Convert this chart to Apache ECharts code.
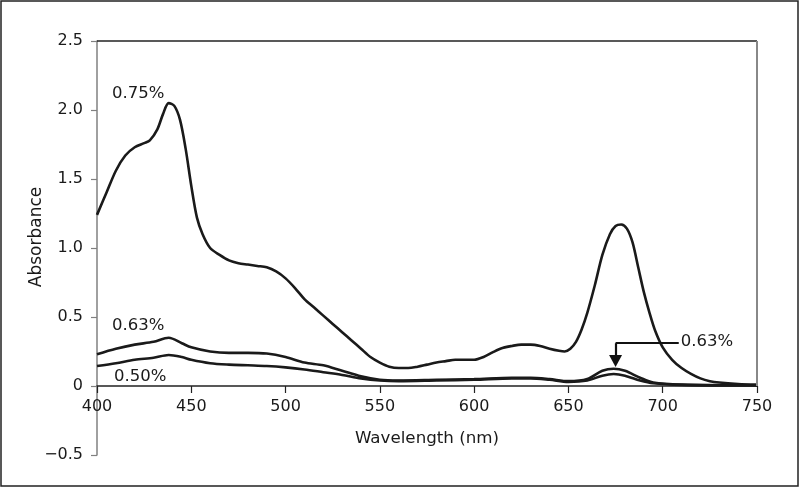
<!DOCTYPE html>
<html><head><meta charset="utf-8">
<script src="https://cdn.jsdelivr.net/npm/echarts@6/dist/echarts.min.js"></script>
<style>html,body{margin:0;padding:0;background:#fff}#c{width:800px;height:488px}</style>
</head><body><div id="c"></div>
<script>
// wavelength (nm) / absorbance
const wl75 = [400,405,410,415,420,425,428,432,435,438,441,444,447,450,453,456,460,465,470,475,480,485,490,495,500,505,510,515,520,525,530,535,540,545,550,555,560,565,570,575,580,585,590,595,600,605,610,615,620,625,630,635,640,645,648,651,654,657,660,664,668,672,675,678,681,684,687,690,693,696,700,705,710,715,720,725,730,740,750];
const abs75 = [1.24,1.40,1.56,1.67,1.73,1.76,1.78,1.86,1.97,2.05,2.03,1.93,1.72,1.45,1.22,1.10,1.00,0.95,0.91,0.89,0.88,0.87,0.86,0.83,0.78,0.71,0.63,0.57,0.51,0.45,0.39,0.33,0.27,0.21,0.17,0.14,0.13,0.13,0.14,0.155,0.17,0.18,0.19,0.19,0.19,0.21,0.245,0.275,0.29,0.30,0.30,0.29,0.27,0.255,0.25,0.27,0.32,0.41,0.53,0.73,0.95,1.10,1.16,1.17,1.14,1.04,0.86,0.68,0.53,0.40,0.28,0.19,0.13,0.088,0.055,0.035,0.025,0.015,0.01];
const wl63 = [400,410,420,430,438,445,450,460,470,480,490,500,510,520,530,540,550,560,580,600,620,630,640,650,660,668,674,680,688,695,710,750];
const abs63 = [0.23,0.27,0.30,0.32,0.35,0.31,0.28,0.25,0.24,0.24,0.235,0.21,0.17,0.15,0.11,0.07,0.045,0.04,0.045,0.05,0.06,0.06,0.05,0.035,0.05,0.11,0.125,0.11,0.06,0.025,0.01,0.005];
const wl50 = [400,410,420,430,438,445,450,460,470,480,490,500,510,520,530,540,550,560,580,600,620,630,640,650,660,668,674,680,688,695,710,750];
const abs50 = [0.145,0.165,0.19,0.205,0.225,0.21,0.19,0.165,0.155,0.15,0.145,0.135,0.12,0.10,0.08,0.055,0.04,0.035,0.04,0.045,0.055,0.055,0.045,0.03,0.04,0.075,0.087,0.075,0.04,0.02,0.008,0.004];
const yTicks = [-0.5, 0, 0.5, 1.0, 1.5, 2.0, 2.5];
const xTicks = [400, 450, 500, 550, 600, 650, 700, 750];
// annotation texts and their anchor positions in data units
const noteTexts = ['0.75%', '0.63%', '0.50%', '0.63%'];
const noteX = [421.8, 421.8, 422.9, 709.6];
const noteY = [2.12, 0.435, 0.065, 0.32];
const noteAlign = ['center', 'center', 'center', 'left'];

const FONT = 'DejaVu Sans';
const TXT = '#1a1a1a';
const zip = (a, b) => a.map((v, i) => [v, b[i]]);

const chart = echarts.init(document.getElementById('c'));
const lineSeries = (name, x, y) => ({
  name, type: 'line', data: zip(x, y), showSymbol: false, smooth: 0.3,
  lineStyle: { color: '#1a1a1a', width: 2.6 }, z: 3, animation: false
});

const s75 = lineSeries('0.75%', wl75, abs75);
s75.markLine = {
  silent: true, symbol: 'none', animation: false, label: { show: false },
  data: [
    [{ coord: [xTicks[0], yTicks[6]], lineStyle: { color: '#222', width: 1.5, type: 'solid' } }, { coord: [xTicks[7], yTicks[6]] }],
    [{ coord: [xTicks[7], yTicks[6]], lineStyle: { color: '#888', width: 2, type: 'solid' } }, { coord: [xTicks[7], 0] }]
  ]
};
const s63 = lineSeries('0.63%', wl63, abs63);
s63.markLine = {
  silent: true, animation: false, label: { show: false },
  lineStyle: { color: '#111', width: 2.2, type: 'solid' },
  data: [
    [{ coord: [675, 0.31], symbol: 'none' }, { coord: [708.5, 0.31], symbol: 'none' }],
    [{ coord: [675, 0.31], symbol: 'none' }, { coord: [675, 0.181], symbol: 'triangle', symbolSize: [13, 12] }]
  ]
};
const s50 = lineSeries('0.50%', wl50, abs50);

chart.setOption({
  animation: false,
  backgroundColor: '#fff',
  grid: { left: 97, right: 43, top: 41, bottom: 33, containLabel: false, outerBoundsMode: 'none' },
  xAxis: {
    type: 'value', min: 400, max: 750, interval: 50,
    axisLine: { onZero: false, lineStyle: { color: '#222', width: 1.5 } },
    axisTick: { show: true, length: 7, lineStyle: { color: '#222', width: 1.2 } },
    axisLabel: { color: TXT, fontFamily: FONT, fontSize: 16, margin: 13 },
    splitLine: { show: false }
  },
  yAxis: {
    type: 'value', min: -0.5, max: 2.5, interval: 0.5,
    axisLine: { show: true, lineStyle: { color: '#808080', width: 1.5 } },
    axisTick: { show: true, length: 6, lineStyle: { color: '#808080', width: 1.2 } },
    axisLabel: {
      color: TXT, fontFamily: FONT, fontSize: 16, margin: 14,
      formatter: v => v === 0 ? '0' : v.toFixed(1).replace('-', '\u2212')
    },
    splitLine: { show: false }
  },
  series: [s75, s63, s50]
});

// place the x axis on absorbance = 0
const pZero = chart.convertToPixel({ gridIndex: 0 }, [xTicks[0], 0]);
const pMin = chart.convertToPixel({ gridIndex: 0 }, [xTicks[0], yTicks[0]]);
chart.setOption({ xAxis: { offset: pZero[1] - pMin[1] } });

const graphics = [
  { type: 'rect', shape: { x: 1, y: 1, width: 797, height: 485 }, style: { fill: 'none', stroke: '#222', lineWidth: 1.5 }, silent: true },
  { type: 'text', x: 37, y: 237, rotation: Math.PI / 2,
    style: { text: 'Absorbance', fill: TXT, font: '17px "' + FONT + '"', textAlign: 'center', textVerticalAlign: 'middle' } },
  { type: 'text', x: 427, y: 439,
    style: { text: 'Wavelength (nm)', fill: TXT, font: '16.7px "' + FONT + '"', textAlign: 'center', textVerticalAlign: 'middle' } }
];
noteTexts.forEach((t, i) => {
  const p = chart.convertToPixel({ gridIndex: 0 }, [noteX[i], noteY[i]]);
  graphics.push({ type: 'text', x: p[0], y: p[1],
    style: { text: t, fill: TXT, font: '16.5px "' + FONT + '"', textAlign: noteAlign[i], textVerticalAlign: 'middle' } });
});
chart.setOption({ graphic: graphics });
</script>
</body></html>
